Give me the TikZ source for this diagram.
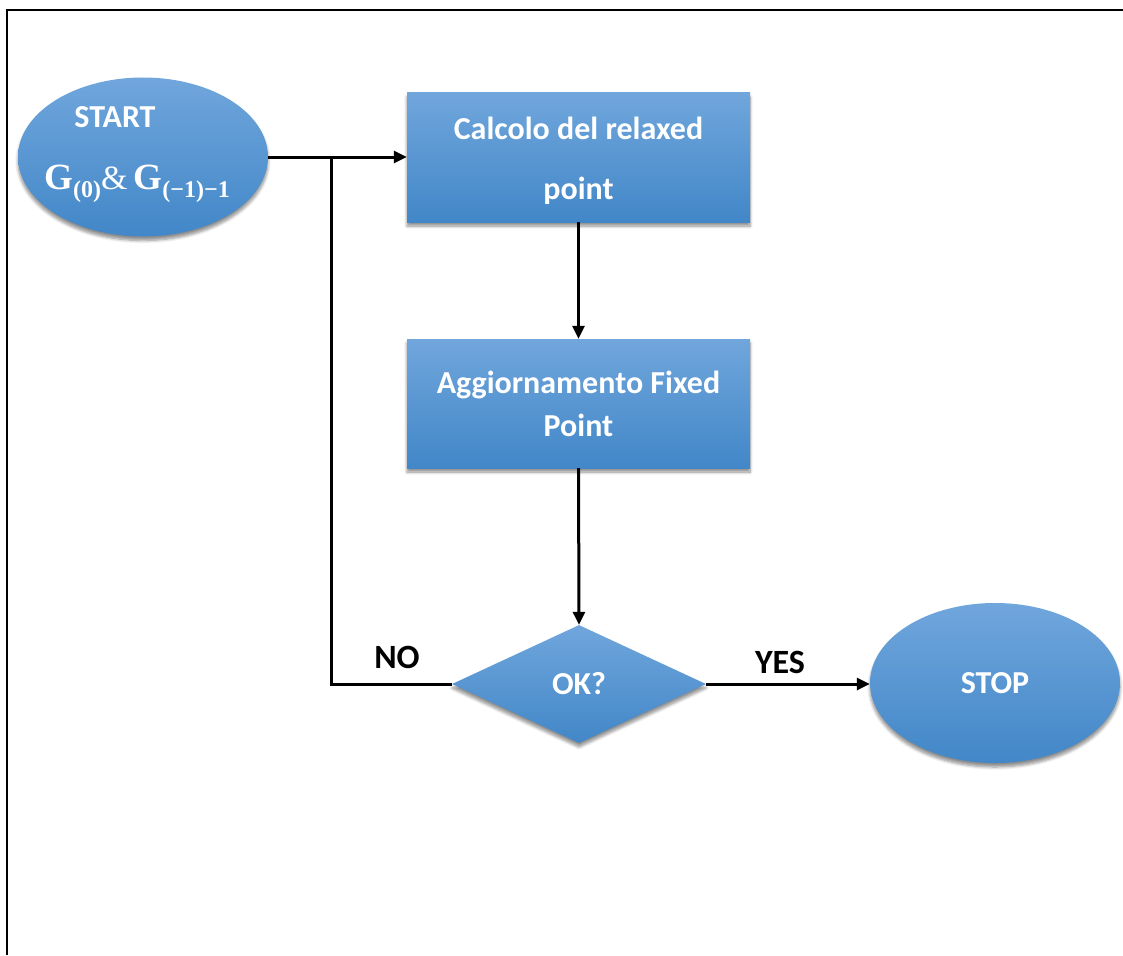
\documentclass[tikz,border=0pt]{standalone}
\usepackage{fontspec}
\setmainfont{Carlito}
\newfontfamily\serifg{Liberation Serif}
\usetikzlibrary{shapes.geometric,arrows.meta,shadows.blur}
\definecolor{topblue}{RGB}{112,166,220}
\definecolor{botblue}{RGB}{66,135,200}
\newcommand{\gsub}[1]{\raisebox{-8pt}{\fontsize{24}{26}\selectfont #1}}
\tikzset{
  blueshape/.style={draw=none, top color=topblue, bottom color=botblue,
    blur shadow={shadow xshift=0pt, shadow yshift=-4pt, shadow blur steps=6, shadow blur radius=3pt, shadow opacity=45},
    inner sep=0pt, text=white, font=\bfseries\fontsize{32}{43}\selectfont},
  oval/.style={blueshape, ellipse, minimum width=250pt, minimum height=159pt},
  procbox/.style={blueshape, rectangle, minimum width=343pt, minimum height=129pt, align=center},
  decision/.style={blueshape, diamond, minimum width=254pt, minimum height=118pt, aspect=2.15},
  conn/.style={line width=3pt, black, -{Triangle[length=13pt,width=12pt]}},
  plain/.style={line width=3pt, black},
  lbl/.style={font=\bfseries\fontsize{34}{40}\selectfont, text=black},
  wtxt/.style={font=\bfseries\fontsize{32}{40}\selectfont, text=white}
}
\begin{document}
\begin{tikzpicture}[x=1pt,y=-1pt]
\useasboundingbox (0,0) rectangle (1123,955);
\draw[line width=2pt] (7,955) -- (7,10) -- (1123,10);
\node[oval] (start) at (143,157) {};
\node[wtxt] (starttxt) at (115,117) {START};
\node[text=white, font=\serifg\fontsize{37}{40}\selectfont, inner sep=0pt] (gtxt) at (137,184)
  {\textbf{G}\gsub{\textbf{(0)}}{\fontsize{34}{36}\selectfont\&}\,\textbf{G}\gsub{\textbf{(\textminus1)\textminus1}}};
\node[procbox] (calc) at (578.5,157.5) {};
\node[wtxt, align=center, font=\bfseries\fontsize{32}{43}\selectfont] (calctxt) at (578.5,161) {Calcolo del relaxed\\[17pt]point};
\node[procbox] (agg) at (578.5,403.5) {Aggiornamento Fixed\\Point};
\node[decision] (ok) at (579,684) {OK?};
\node[oval, minimum height=160pt] (stop) at (995,683) {STOP};
\coordinate (jtop) at (331,157);
\coordinate (jbot) at (331,684);
\draw[conn] (start.east) -- (jtop -| calc.west);
\draw[plain] (ok.west) -- (jbot) -- (jtop);
\draw[conn] (calc.south) -- (agg.north);
\draw[conn] (agg.south) -- (ok.north);
\draw[conn] (ok.east) -- (ok.east -| stop.west);
\node[lbl] (nolbl) at (397,657) {NO};
\node[lbl] (yeslbl) at (780,662) {YES};
\end{tikzpicture}
\end{document}
